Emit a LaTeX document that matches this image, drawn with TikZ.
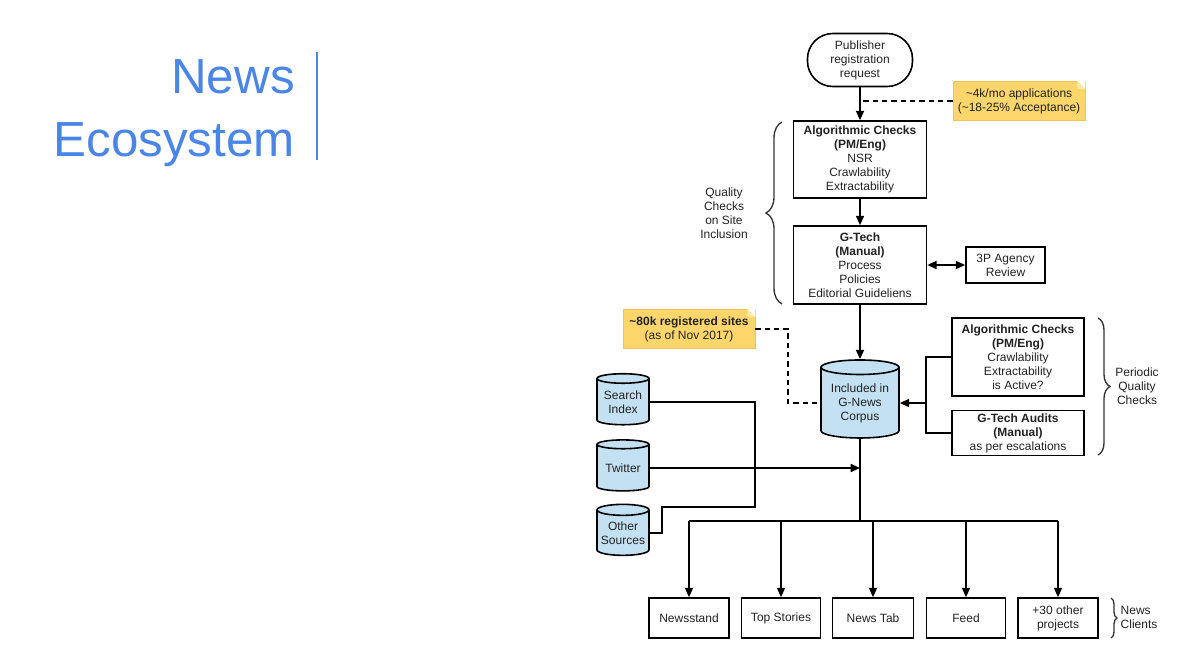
\documentclass[tikz,border=0pt]{standalone}
\usepackage{fontspec}
\setmainfont{Liberation Sans}
\usetikzlibrary{shapes.geometric,arrows.meta,decorations.pathreplacing}

\begin{document}
\begin{tikzpicture}[x=0.75pt,y=0.75pt,yscale=-1,xscale=1,
  txt/.style={font=\fontsize{9}{10.5}\selectfont, text={rgb, 255:red, 34; green, 34; blue, 34}},
  box/.style={txt, draw, line width=1.2pt, align=center, inner sep=0pt},
  can/.style={txt, cylinder, shape border rotate=90, aspect=0.25, draw, line width=1.2pt, fill={rgb, 255:red, 196; green, 225; blue, 243}, align=center, inner sep=0pt},
  note/.style={txt, fill={rgb, 255:red, 252; green, 214; blue, 106}, draw={rgb, 255:red, 238; green, 196; blue, 86}, line width=0.4pt, align=center, inner sep=0pt},
  link/.style={line width=1.3pt},
  arr/.style={link, -{Triangle[length=7pt,width=6pt]}},
  hint/.style={link, dash pattern=on 4pt off 3pt},
  brace/.style={decorate, line width=1pt, draw={rgb, 255:red, 51; green, 51; blue, 51}},
  title/.style={font=\fontsize{37}{44}\selectfont, text={rgb, 255:red, 74; green, 134; blue, 232}, inner sep=0pt}
]
%set diagram size
\useasboundingbox (0,0) rectangle (1200,650);

% Title
\node [title, anchor=base east] (tnews) at (295,93) {News};
\node [title, anchor=base east] (teco) at (295,156) {Ecosystem};
\draw [draw={rgb, 255:red, 74; green, 134; blue, 232}, line width=1.2pt] (317,52) -- (317,160);

% Registration
\node [box, rounded corners=19pt, minimum width=78.75pt, minimum height=39.75pt] (pub) at (860,60) {Publisher\\registration\\request};
\node [note, minimum width=99pt, minimum height=29.25pt] (apps) at (1019,101) {\textasciitilde4k/mo applications\\(\textasciitilde18-25\% Acceptance)};
\node [box, minimum width=99.75pt, minimum height=57.75pt] (algo) at (860,159.5) {\textbf{Algorithmic Checks}\\\textbf{(PM/Eng)}\\NSR\\Crawlability\\Extractability};
\node [box, minimum width=99.75pt, minimum height=58.5pt] (gtech) at (860,265) {\textbf{G-Tech}\\\textbf{(Manual)}\\Process\\Policies\\Editorial Guideliens};
\node [box, minimum width=59.25pt, minimum height=27pt] (agency) at (1005.5,265) {3P Agency\\Review};

% Corpus
\node [can, minimum width=58.5pt, minimum height=58.5pt] (corpus) at (860,403) {Included in\\G-News\\Corpus};
\node [note, minimum width=99pt, minimum height=29.25pt] (sites) at (689,329) {\textbf{\textasciitilde80k registered sites}\\(as of Nov 2017)};
\node [box, minimum width=99pt, minimum height=58.5pt] (algo2) at (1018,357) {\textbf{Algorithmic Checks}\\\textbf{(PM/Eng)}\\Crawlability\\Extractability\\is Active?};
\node [box, minimum width=99pt, minimum height=33.75pt] (audits) at (1018,433) {\textbf{G-Tech Audits}\\\textbf{(Manual)}\\as per escalations};

% Other sources
\node [can, minimum width=39pt, minimum height=38.25pt] (search) at (623,402) {Search\\Index};
\node [can, minimum width=39pt, minimum height=38.25pt] (twitter) at (623,468) {Twitter};
\node [can, minimum width=39pt, minimum height=38.25pt] (other) at (623,533) {Other\\Sources};

% News clients
\node [box, minimum width=60pt, minimum height=30pt] (newsstand) at (689,618) {Newsstand};
\node [box, minimum width=59.25pt, minimum height=30pt] (topstories) at (781,618) {Top Stories};
\node [box, minimum width=60.75pt, minimum height=30pt] (newstab) at (873,618) {News Tab};
\node [box, minimum width=59.25pt, minimum height=30pt] (feed) at (966,618) {Feed};
\node [box, minimum width=60pt, minimum height=30pt] (more) at (1058,618) {+30 other\\projects};

% note folds
\foreach \n in {apps,sites} {
  \fill [white] (\n.north east) -- ++(-8,0) -- ++(8,8) -- cycle;
  \fill [fill={rgb, 255:red, 255; green, 232; blue, 160}] (\n.north east) ++(-8,0) -- ++(0,8) -- ++(8,0) -- cycle;
}

% Connectors
\draw [arr] (pub) -- (algo);
\draw [hint] (apps.west) -- (apps.west -| pub.south);
\draw [arr] (algo) -- (gtech);
\draw [link, {Triangle[length=7pt,width=6pt]}-{Triangle[length=7pt,width=6pt]}] (gtech) -- (agency);
\draw [arr] (gtech) -- (corpus);
\draw [hint] (sites.east) -- ++(33,0) |- (corpus.west);

\coordinate (rj) at (926,403);
\draw [link] (algo2.west) -| (rj) |- (audits.west);
\draw [arr] (rj) -- (corpus.east);

\coordinate (sj) at (755,507);
\draw [link] (search.east) -| (sj) -- (662,507) |- (other.east);
\draw [arr] (twitter.east) -- (twitter.east -| corpus.south);

\coordinate (split) at (860,521);
\draw [link] (corpus.south) -- (split);
\draw [link] (split -| newsstand.north) -- (split -| more.north);
\foreach \b in {newsstand,topstories,newstab,feed,more}
  \draw [arr] (split -| \b.north) -- (\b.north);

% Braces
\draw [brace, decoration={brace, amplitude=12pt}] (782,304) -- (782,122);
\node [txt, align=center] (quality) at (724,213) {Quality\\Checks\\on Site\\Inclusion};
\draw [brace, decoration={brace, amplitude=9pt}] (1098,318) -- (1098,455);
\node [txt, align=center] (periodic) at (1137,386) {Periodic\\Quality\\Checks};
\draw [brace, decoration={brace, amplitude=4.5pt}] (1111,598) -- (1111,638);
\node [txt, align=left, anchor=west] (clients) at (1116,617) {News\\Clients};

\end{tikzpicture}
\end{document}
